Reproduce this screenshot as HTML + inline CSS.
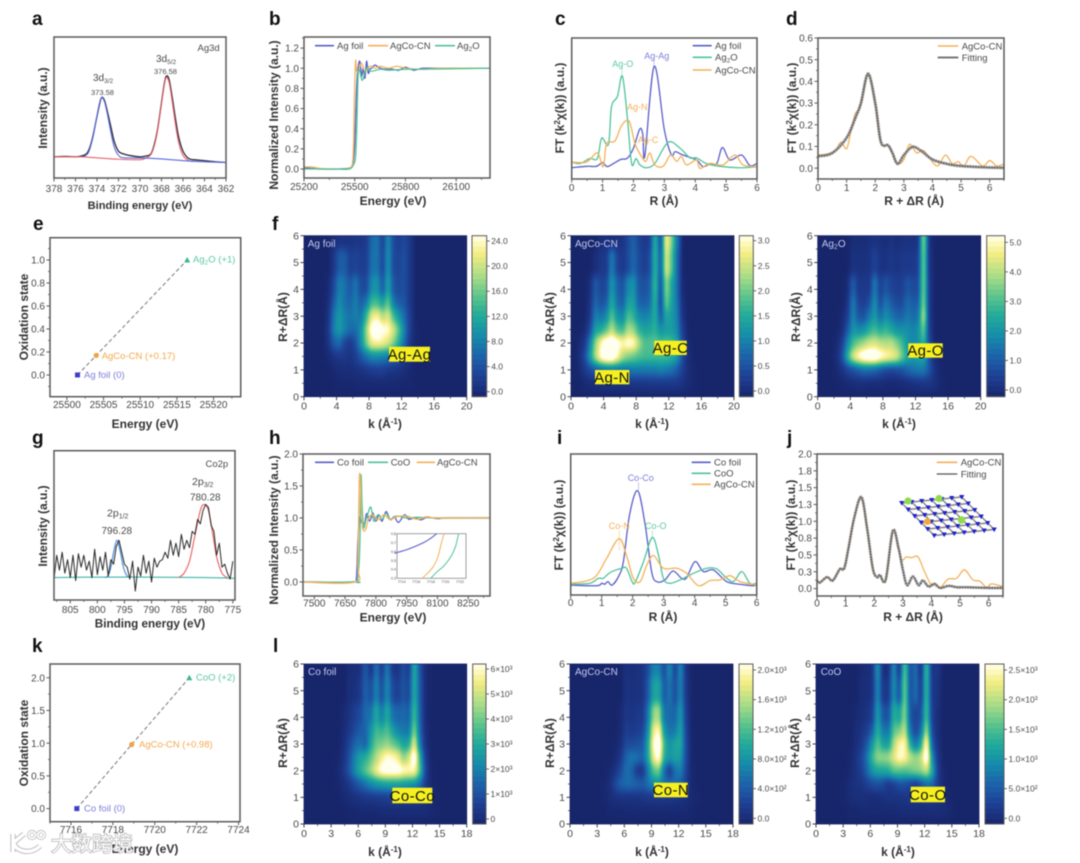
<!DOCTYPE html>
<html lang="en">
<head>
<meta charset="utf-8">
<title>Ag and Co XPS / XAFS characterization figure</title>
<style>
html,body{margin:0;padding:0;background:#fff;width:1080px;height:863px;overflow:hidden}
svg{display:block;filter:blur(.65px)}
text{font-family:"Liberation Sans","Noto Sans CJK SC",sans-serif;fill:#4a4a4a}
.L{font-size:19px;font-weight:bold;fill:#111}
.T{font-size:12px;font-weight:bold;fill:#333;text-anchor:middle}
.S{font-size:9.5px}
.A{font-size:9px;text-anchor:middle}
.H{font-size:10px;fill:#c3c9ee}
.C{font-size:15px;fill:#111;text-anchor:middle;letter-spacing:.4px}
</style>
</head>
<body>
<svg id="fig" width="1080" height="863" viewBox="0 0 1080 863" xmlns="http://www.w3.org/2000/svg">
<defs>
<filter id="heatBlur" x="-10%" y="-10%" width="120%" height="120%" color-interpolation-filters="sRGB"><feGaussianBlur stdDeviation="2.2 4.6"/><feComponentTransfer id="heatTransfer"></feComponentTransfer></filter>
<clipPath id="cf1"><rect x="304" y="235.7" width="162.7" height="161"/></clipPath>
<clipPath id="cf2"><rect x="571" y="235.7" width="163" height="161"/></clipPath>
<clipPath id="cf3"><rect x="817.7" y="235.7" width="163" height="161"/></clipPath>
<clipPath id="cl1"><rect x="304" y="664" width="162.7" height="160"/></clipPath>
<clipPath id="cl2"><rect x="570" y="664" width="163" height="160"/></clipPath>
<clipPath id="cl3"><rect x="816" y="664" width="163" height="160"/></clipPath>
</defs>
<rect width="1080" height="863" fill="#fff"/>
<g id="plots"></g>

<g>
<text class="L" x="32" y="25">a</text>
<text class="L" x="269" y="25">b</text>
<text class="L" x="555" y="25">c</text>
<text class="L" x="786" y="25">d</text>
<text class="L" x="33" y="230">e</text>
<text class="L" x="272" y="230">f</text>
<text class="L" x="32" y="444">g</text>
<text class="L" x="269" y="444">h</text>
<text class="L" x="557" y="444">i</text>
<text class="L" x="787" y="444">j</text>
<text class="L" x="32" y="652">k</text>
<text class="L" x="273" y="652">l</text>
</g>

<g>
<text class="T" x="140" y="209" style="font-size:11.1px">Binding energy (eV)</text>
<text class="T" x="393" y="205">Energy (eV)</text>
<text class="T" x="664" y="205">R (Å)</text>
<text class="T" x="914" y="205">R + ΔR (Å)</text>
<text class="T" x="145" y="428">Energy (eV)</text>
<text class="T" x="385" y="428">k (Å<tspan dy="-4" font-size="8">-1</tspan><tspan dy="4">)</tspan></text>
<text class="T" x="652" y="428">k (Å<tspan dy="-4" font-size="8">-1</tspan><tspan dy="4">)</tspan></text>
<text class="T" x="899" y="428">k (Å<tspan dy="-4" font-size="8">-1</tspan><tspan dy="4">)</tspan></text>
<text class="T" x="150" y="627.5" style="font-size:11.7px">Binding energy (eV)</text>
<text class="T" x="393" y="621.5">Energy (eV)</text>
<text class="T" x="663" y="621">R (Å)</text>
<text class="T" x="913" y="621">R + ΔR (Å)</text>
<text class="T" x="145" y="853">Energy (eV)</text>
<text class="T" x="385" y="856">k (Å<tspan dy="-4" font-size="8">-1</tspan><tspan dy="4">)</tspan></text>
<text class="T" x="652" y="856">k (Å<tspan dy="-4" font-size="8">-1</tspan><tspan dy="4">)</tspan></text>
<text class="T" x="898" y="856">k (Å<tspan dy="-4" font-size="8">-1</tspan><tspan dy="4">)</tspan></text>

<text class="T" transform="translate(47,108) rotate(-90)">Intensity (a.u.)</text>
<text class="T" transform="translate(278,115) rotate(-90)">Normalized Intensity (a.u.)</text>
<text class="T" transform="translate(564,108) rotate(-90)">FT (k<tspan dy="-4" font-size="8">2</tspan><tspan dy="4">χ(k)) (a.u.)</tspan></text>
<text class="T" transform="translate(796,108) rotate(-90)">FT (k<tspan dy="-4" font-size="8">2</tspan><tspan dy="4">χ(k)) (a.u.)</tspan></text>
<text class="T" transform="translate(28,317) rotate(-90)">Oxidation state</text>
<text class="T" transform="translate(287,317) rotate(-90)">R+ΔR(Å)</text>
<text class="T" transform="translate(554,317) rotate(-90)">R+ΔR(Å)</text>
<text class="T" transform="translate(800,317) rotate(-90)">R+ΔR(Å)</text>
<text class="T" transform="translate(47,526) rotate(-90)">Intensity (a.u.)</text>
<text class="T" transform="translate(278,530) rotate(-90)">Normalized Intensity (a.u.)</text>
<text class="T" transform="translate(563,525) rotate(-90)">FT (k<tspan dy="-4" font-size="8">2</tspan><tspan dy="4">χ(k)) (a.u.)</tspan></text>
<text class="T" transform="translate(795,525) rotate(-90)">FT (k<tspan dy="-4" font-size="8">2</tspan><tspan dy="4">χ(k)) (a.u.)</tspan></text>
<text class="T" transform="translate(28,743) rotate(-90)">Oxidation state</text>
<text class="T" transform="translate(287,743) rotate(-90)">R+ΔR(Å)</text>
<text class="T" transform="translate(554,743) rotate(-90)">R+ΔR(Å)</text>
<text class="T" transform="translate(799,743) rotate(-90)">R+ΔR(Å)</text>
</g>

<g>
<text x="197.5" y="51" font-size="9.5">Ag3d</text>
<text x="93" y="81" font-size="10">3d<tspan dy="2" font-size="6.5">3/2</tspan></text>
<text x="91" y="95" font-size="7.5">373.58</text>
<text x="156" y="62" font-size="10">3d<tspan dy="2" font-size="6.5">5/2</tspan></text>
<text x="154" y="74" font-size="7.5">376.58</text>
</g>
<g>
<text x="205.5" y="467" font-size="9.5">Co2p</text>
<text x="192" y="485" font-size="10.5">2p<tspan dy="2" font-size="7">3/2</tspan></text>
<text x="190" y="500.7" font-size="10">780.28</text>
<text x="107" y="516.7" font-size="10.5">2p<tspan dy="2" font-size="7">1/2</tspan></text>
<text x="101.5" y="534" font-size="10">796.28</text>
</g>

<g>
<line x1="315" x2="334" y1="45.7" y2="45.7" stroke="#5a5fc8" stroke-width="1.6"/>
<text class="S" x="337" y="49">Ag foil</text>
<line x1="368" x2="388" y1="45.7" y2="45.7" stroke="#f4b15a" stroke-width="1.6"/>
<text class="S" x="390" y="49">AgCo-CN</text>
<line x1="435" x2="455" y1="45.7" y2="45.7" stroke="#4fc39a" stroke-width="1.6"/>
<text class="S" x="457" y="49">Ag<tspan dy="2" font-size="6.5">2</tspan><tspan dy="-2">O</tspan></text>
</g>
<g>
<line x1="692.7" x2="711.7" y1="45.7" y2="45.7" stroke="#5a5fc8" stroke-width="1.6"/>
<text class="S" x="715" y="49">Ag foil</text>
<line x1="692.7" x2="711.7" y1="57.3" y2="57.3" stroke="#4fc39a" stroke-width="1.6"/>
<text class="S" x="715" y="60.6">Ag<tspan dy="2" font-size="6.5">2</tspan><tspan dy="-2">O</tspan></text>
<line x1="692.7" x2="711.7" y1="70" y2="70" stroke="#f4b15a" stroke-width="1.6"/>
<text class="S" x="715" y="73.3">AgCo-CN</text>
<text class="A" x="656.7" y="59" style="fill:#7a7fd8">Ag-Ag</text>
<text class="A" x="622.7" y="67" style="fill:#5cc9a2">Ag-O</text>
<text class="A" x="637.3" y="110" style="fill:#f4b15a">Ag-N</text>
<text class="A" x="648" y="143" style="fill:#f4b15a">Ag-C</text>
<line x1="654" x2="654" y1="60.5" y2="66" stroke="#7a7fd8" stroke-width=".8" stroke-dasharray="1.2 1"/>
<line x1="622" x2="622" y1="68.5" y2="75" stroke="#5cc9a2" stroke-width=".8" stroke-dasharray="1.2 1"/>
</g>
<g>
<line x1="937.7" x2="958.3" y1="46" y2="46" stroke="#f4b15a" stroke-width="1.6"/>
<text class="S" x="961.7" y="49.3">AgCo-CN</text>
<line x1="937.7" x2="958.3" y1="57.5" y2="57.5" stroke="#777" stroke-width="2"/>
<text class="S" x="961.7" y="60.8">Fitting</text>
</g>
<g>
<line x1="315" x2="334" y1="462.3" y2="462.3" stroke="#5a5fc8" stroke-width="1.6"/>
<text class="S" x="337" y="465.6">Co foil</text>
<line x1="368" x2="388" y1="462.3" y2="462.3" stroke="#4fc39a" stroke-width="1.6"/>
<text class="S" x="390.7" y="465.6">CoO</text>
<line x1="416.7" x2="435" y1="462.3" y2="462.3" stroke="#f4b15a" stroke-width="1.6"/>
<text class="S" x="437" y="465.6">AgCo-CN</text>
</g>
<g>
<line x1="691.7" x2="710.7" y1="462.3" y2="462.3" stroke="#5a5fc8" stroke-width="1.6"/>
<text class="S" x="714" y="465.6">Co foil</text>
<line x1="691.7" x2="710.7" y1="473.3" y2="473.3" stroke="#4fc39a" stroke-width="1.6"/>
<text class="S" x="714" y="476.6">CoO</text>
<line x1="691.7" x2="710.7" y1="484.3" y2="484.3" stroke="#f4b15a" stroke-width="1.6"/>
<text class="S" x="714" y="487.6">AgCo-CN</text>
<text class="A" x="640.7" y="481" style="fill:#7a7fd8">Co-Co</text>
<text class="A" x="619.3" y="529" style="fill:#f4b15a">Co-N</text>
<text class="A" x="655.7" y="529" style="fill:#5cc9a2">Co-O</text>
<line x1="638.5" x2="638.5" y1="483" y2="490" stroke="#7a7fd8" stroke-width=".8" stroke-dasharray="1.2 1"/>
<line x1="619.3" x2="619.3" y1="531" y2="551" stroke="#f4b15a" stroke-width=".8" stroke-dasharray="1.2 1"/>
<line x1="652.3" x2="652.3" y1="531" y2="537" stroke="#5cc9a2" stroke-width=".8" stroke-dasharray="1.2 1"/>
</g>
<g>
<line x1="936.7" x2="957.3" y1="462.3" y2="462.3" stroke="#f4b15a" stroke-width="1.6"/>
<text class="S" x="960.7" y="465.6">AgCo-CN</text>
<line x1="936.7" x2="957.3" y1="474" y2="474" stroke="#555" stroke-width="1.2"/>
<text class="S" x="960.7" y="477.3">Fitting</text>
</g>

<g>
<text class="S" x="193" y="262.7" style="fill:#5cc9a2">Ag<tspan dy="2" font-size="6.5">2</tspan><tspan dy="-2">O (+1)</tspan></text>
<text class="S" x="101.7" y="359" style="fill:#f4a94e">AgCo-CN (+0.17)</text>
<text class="S" x="84" y="378" style="fill:#7a7fd8">Ag foil (0)</text>
</g>
<g>
<text class="S" x="196" y="680.7" style="fill:#5cc9a2">CoO (+2)</text>
<text class="S" x="139" y="747.7" style="fill:#f4a94e">AgCo-CN (+0.98)</text>
<text class="S" x="84" y="811.7" style="fill:#7a7fd8">Co foil (0)</text>
</g>

<g id="heatLabels">
<text class="H" x="307.7" y="247">Ag foil</text>
<text class="H" x="575" y="247">AgCo-CN</text>
<text class="H" x="821.7" y="247">Ag<tspan dy="2" font-size="7">2</tspan><tspan dy="-2">O</tspan></text>
<text class="H" x="308" y="675">Co foil</text>
<text class="H" x="575" y="675">AgCo-CN</text>
<text class="H" x="820.7" y="675">CoO</text>

<rect x="389" y="346.7" width="41" height="15" fill="#f6f020"/>
<text class="C" x="409.5" y="359.5">Ag-Ag</text>
<rect x="595" y="370" width="34.3" height="14.3" fill="#f6f020"/>
<text class="C" x="612" y="382.5">Ag-N</text>
<rect x="654.3" y="340.7" width="32.4" height="14.3" fill="#f6f020"/>
<text class="C" x="670.5" y="353">Ag-C</text>
<rect x="908.3" y="343.3" width="34.4" height="14.4" fill="#f6f020"/>
<text class="C" x="925.5" y="355.7">Ag-O</text>
<rect x="392.3" y="787.7" width="40" height="15.6" fill="#f6f020"/>
<text class="C" x="412.3" y="800.8">Co-Co</text>
<rect x="654" y="782.7" width="33.7" height="14.6" fill="#f6f020"/>
<text class="C" x="670.8" y="795.2">Co-N</text>
<rect x="910.7" y="786.7" width="34.3" height="15.6" fill="#f6f020"/>
<text class="C" x="927.8" y="799.8">Co-O</text>
</g>

<g>
<path d="M13 834 V852 M13 843 L24 834 M14 844 C18 853 32 854 40 846" fill="none" stroke="#bdbdbd" stroke-width="5.4"/>
<path d="M13 834 V852 M13 843 L24 834 M14 844 C18 853 32 854 40 846" fill="none" stroke="#fff" stroke-width="3.4"/>
<circle cx="32" cy="835" r="3.4" fill="none" stroke="#bdbdbd" stroke-width="3.4"/>
<circle cx="41" cy="835" r="3.4" fill="none" stroke="#bdbdbd" stroke-width="3.4"/>
<circle cx="32" cy="835" r="3.4" fill="none" stroke="#fff" stroke-width="1.8"/>
<circle cx="41" cy="835" r="3.4" fill="none" stroke="#fff" stroke-width="1.8"/>
<text x="51" y="851" font-size="20.5" style="fill:#fff;stroke:#b5b5b5;stroke-width:1.5;paint-order:stroke fill;font-family:'Liberation Sans','Noto Sans CJK SC',sans-serif">大数跨境</text>
</g>
</svg>

<script>
/* ---------- panel a : XPS Ag 3d ---------- */
const aTicksX=[378,376,374,372,370,368,366,364,362];
const aRaw=[[378,15],[377,15.3],[376,15],[375.5,15.5],[375,17],[374.7,21],[374.4,29],[374.1,40],[373.8,51],[373.58,57],[373.3,55],[373,46],[372.7,36],[372.4,26],[372,19],[371.5,17],[371,16],[370,15],[369.5,15.5],[369,17],[368.7,23],[368.4,33],[368.1,48],[367.8,64],[367.58,72],[367.3,70],[367,57],[366.7,42],[366.4,29],[366,19],[365.5,14],[365,13],[364,12.3],[363,11.5],[362,11]];
const aFitBlue=[[375.3,15],[374.8,18],[374.4,28],[374.1,40],[373.8,52],[373.58,57],[373.3,54],[373,44],[372.7,32],[372.4,22],[372,16],[371.5,14.3],[370,14.2],[368,13.5],[366,12.3],[364,11.5],[362,11]];
const aFitRed=[[378,15],[375.5,15],[374,14.3],[372,13.3],[370,13],[369.5,14],[369,16.5],[368.7,22],[368.4,32],[368.1,47],[367.8,63],[367.58,71],[367.3,68],[367,54],[366.7,38],[366.4,25],[366,16],[365.5,12.5],[365,11.8]];

/* ---------- panel b : Ag K-edge XANES ---------- */
const bTicksX=[25200,25500,25800,26100];
const bTicksY=[0,.2,.4,.6,.8,1,1.2];
const bAgFoil=[[25200,.01],[25300,0],[25400,0],[25470,.01],[25490,.06],[25500,.25],[25510,.75],[25518,.98],[25530,1.07],[25540,.92],[25550,1],[25560,.9],[25570,1.07],[25580,.95],[25590,.99],[25600,1],[25620,1.03],[25650,1],[25680,.99],[25720,.99],[25760,.98],[25800,1.01],[25850,.98],[25900,1],[26000,1],[26100,1],[26300,1]];
const bAgCoCN=[[25200,.02],[25250,.02],[25300,.005],[25400,0],[25470,.01],[25490,.12],[25498,.7],[25505,1.07],[25510,.98],[25520,.97],[25540,1.05],[25560,.97],[25590,1.02],[25620,1],[25650,1.02],[25700,1],[25750,1.02],[25800,1],[25900,.99],[26000,1],[26300,1]];
const bAg2O=[[25200,0],[25300,0],[25400,0],[25470,0],[25495,.05],[25505,.12],[25512,.4],[25520,.93],[25530,.97],[25545,.88],[25570,1],[25600,.97],[25650,.99],[25700,.98],[25800,.99],[25900,.99],[26300,1]];

/* ---------- panel c : Ag FT-EXAFS ---------- */
const cTicksX=[0,1,2,3,4,5,6];
const cAgFoil=[[0,8],[.5,9],[.8,9],[1,11.6],[1.15,8.8],[1.4,11.6],[1.6,14],[1.8,14.7],[2,21.8],[2.2,35.3],[2.3,32],[2.37,16.6],[2.67,79.9],[3,34.8],[3.23,17],[3.35,19.4],[3.6,17],[4.04,13.5],[4.25,8.8],[4.5,11],[4.7,11],[4.88,22.3],[5.12,13.5],[5.5,17],[5.77,9.5],[6,11]];
const cAg2O=[[0,12],[.27,11],[.59,14.5],[.83,14.5],[.97,29],[1.19,24.5],[1.29,51.4],[1.48,58.5],[1.64,73],[1.8,44],[1.94,11],[2.08,14.5],[2.21,10],[2.42,8],[2.69,11],[3.12,26],[3.5,22],[3.83,15],[4.04,15],[4.36,11],[4.8,9],[5.44,8],[6,8.7]];
const cAgCoCN=[[0,12],[.48,12],[.83,18.5],[1.02,8.7],[1.13,25],[1.4,27],[1.62,38],[1.86,41],[2.05,25],[2.26,16],[2.4,12.5],[2.53,18.5],[2.69,10],[2.96,9],[3.2,17],[3.4,12.5],[3.55,16],[3.72,10],[4.04,13.5],[4.15,7.5],[4.47,11],[4.9,10],[5.28,17],[5.55,10],[6,8.7]];

/* ---------- panel d : Ag EXAFS fit ---------- */
const dTicksX=[0,1,2,3,4,5,6];
const dTicksY=[0,.1,.2,.3,.4,.5,.6];
const dData=[[0,.06],[.3,.065],[.6,.08],[.8,.12],[1,.09],[1.15,.17],[1.3,.25],[1.5,.29],[1.75,.435],[2,.3],[2.2,.12],[2.45,.105],[2.6,.07],[2.78,.02],[3,.04],[3.2,.11],[3.45,.07],[3.7,.08],[4.15,.01],[4.45,.06],[4.7,.02],[4.9,.03],[5.1,.01],[5.35,.055],[5.75,.01],[6,.035],[6.25,.01],[6.5,.02]];
const dFit=[[0,.055],[.5,.07],[1,.14],[1.3,.23],[1.5,.3],[1.75,.435],[2,.3],[2.2,.12],[2.45,.105],[2.6,.07],[2.78,.02],[3,.06],[3.3,.098],[3.6,.08],[4,.04],[4.5,.02],[5,.01],[6,.003],[6.5,.002]];

/* ---------- panels e / k : oxidation state ---------- */
const eTicksX=[25500,25505,25510,25515,25520];
const eTicksY=[0,.2,.4,.6,.8,1];
const eEnergy=[25501.45,25504,25516.4];
const eState=[0,.17,1];
const kTicksX=[7716,7718,7720,7722,7724];
const kTicksY=[0,.5,1,1.5,2];
const kEnergy=[7716.28,7718.9,7721.65];
const kState=[0,.98,2];

/* ---------- panel g : XPS Co 2p ---------- */
const gTicksX=[805,800,795,790,785,780,775];
const gEnergy=[808,807.5,807,806.5,806,805.5,805,804.5,804,803.5,803,802.5,802,801.5,801,800.5,800,799.5,799,798.5,798,797.5,797,796.5,796,795.5,795,794.5,794,793.5,793,792.5,792,791.5,791,790.5,790,789.5,789,788.5,788,787.5,787,786.5,786,785.5,785,784.5,784,783.5,783,782.5,782,781.5,781,780.5,780,779.5,779,778.5,778,777.5,777,776.5,776,775.5,775];
const gCounts=[14,30,20,32,18,27,15,30,13,31,22,30,20,26,15,34,17,29,20,32,16,27,24,36,40,32,24,22,14,26,6,22,16,30,18,26,12,28,22,26,27,32,28,40,30,38,29,44,34,40,35,46,44,54,51,60,64,62,50,46,30,38,22,24,18,14,26];
const gFitBlue=[[798.6,15],[798,16.5],[797.5,22],[797,32],[796.4,40],[795.8,33],[795.2,22],[794.6,16.5],[794,15]];
const gFitRed=[[785,15],[784,18],[783,26],[782,43],[781,60],[780.3,64],[779.5,60],[778.7,44],[778,29],[777,18],[776,15]];
const gBase=[[808,15],[800,15.3],[790,15.3],[780,15],[774.6,14.5]];

/* ---------- panel h : Co K-edge XANES ---------- */
const hTicksX=[7500,7650,7800,7950,8100,8250];
const hTicksY=[0,.5,1,1.5,2];
const hCoFoil=[[7445,0],[7690,0],[7705,.05],[7712,.6],[7720,1],[7730,.93],[7745,.92],[7755,1.07],[7770,.95],[7785,1.08],[7800,.95],[7815,1.05],[7830,.95],[7850,1.1],[7870,.97],[7890,1.02],[7910,.93],[7940,1.05],[7960,.98],[7990,1],[8020,.97],[8050,1.01],[8100,.99],[8150,1],[8356,1]];
const hCoO=[[7445,0],[7700,0],[7712,.05],[7722,.6],[7727,1.66],[7733,1.2],[7740,.85],[7750,.95],[7760,1.05],[7775,1.17],[7790,.95],[7810,1.05],[7830,.98],[7850,1.07],[7870,.98],[7900,1.03],[7950,1],[8000,1.01],[8100,1],[8356,1]];
const hAgCoCN=[[7445,0],[7700,0],[7712,.3],[7720,1.66],[7728,1.3],[7735,.85],[7750,.82],[7765,1],[7785,1.05],[7810,.97],[7840,1.05],[7870,.97],[7900,1.02],[7950,1.03],[8000,.98],[8050,1.02],[8100,1],[8356,1]];
const insetTicksX=[7714,7716,7718,7720,7722];
const insetTicksY=[.3,.4,.5,.6,.7,.8];
const insetCoFoil=[[7713,.58],[7715,.63],[7717,.7],[7718,.75],[7718.8,.8]];
const insetAgCoCN=[[7716.8,.3],[7717.6,.36],[7718.4,.44],[7719,.55],[7719.4,.68],[7719.8,.8]];
const insetCoO=[[7718,.3],[7718.8,.37],[7719.8,.44],[7720.8,.55],[7721.4,.66],[7721.8,.8]];

/* ---------- panel i : Co FT-EXAFS ---------- */
const iTicksX=[0,1,2,3,4,5,6];
const iCoFoil=[[0,7],[.84,6.6],[1,8.3],[1.1,7.6],[1.2,9.5],[1.33,7],[1.54,13],[1.7,23.7],[1.9,57],[2.16,74],[2.4,50],[2.61,16.6],[2.77,9.5],[3.04,10.7],[3.3,17],[3.58,11.8],[3.74,12.3],[4.01,23.7],[4.28,16.6],[4.6,17.8],[5.03,9.5],[5.46,7.6],[5.89,6.6],[6,7.6]];
const iCoO=[[0,7.6],[.62,8.3],[.89,11.8],[1.05,11.8],[1.16,14],[1.33,16.6],[1.65,19],[1.8,19],[1.98,9.5],[2.08,9],[2.35,23.7],[2.63,40.8],[2.83,28.4],[2.99,11.8],[3.2,8.3],[3.53,10.7],[3.96,15.4],[4.39,19],[4.71,18.5],[4.98,13],[5.25,9.5],[5.52,16.6],[5.78,8.3],[6,8.3]];
const iAgCoCN=[[0,8.3],[.52,10],[.84,14],[1.16,26],[1.56,40],[1.8,28],[2.02,11.8],[2.24,9.5],[2.45,21],[2.67,28],[2.99,19],[3.42,19],[3.74,15.4],[4.12,6.6],[4.5,10.3],[4.82,10.7],[5.14,13.7],[5.46,9.5],[6,7]];

/* ---------- panel j : Co EXAFS fit ---------- */
const jTicksX=[0,1,2,3,4,5,6];
const jTicksY=[0,.25,.5,.75,1,1.25,1.5,1.75,2];
const jTickText=["0.0","0.3","0.5","0.8","1.0","1.3","1.5","1.8","2.0"];
const jData=[[0,.12],[.1,.09],[.35,.17],[.55,.12],[.8,.29],[.95,.3],[1.1,.62],[1.3,1.05],[1.55,1.33],[1.75,.9],[1.95,.3],[2.1,.17],[2.2,.2],[2.4,.13],[2.65,.85],[2.85,.6],[2.95,.42],[3.12,.47],[3.3,.46],[3.53,.47],[3.76,.25],[4,.05],[4.17,.07],[4.3,.01],[4.58,.14],[4.87,.15],[5.1,.27],[5.22,.26],[5.45,.13],[5.69,.11],[5.92,.02],[6.1,.07],[6.5,.03]];
const jFit=[[0,.12],[.1,.09],[.35,.17],[.55,.12],[.8,.29],[.95,.3],[1.1,.6],[1.3,1.05],[1.55,1.36],[1.75,.9],[1.95,.3],[2.1,.17],[2.2,.2],[2.4,.13],[2.65,.86],[2.85,.6],[3,.28],[3.15,.05],[3.35,.18],[3.55,.05],[3.7,.12],[3.9,.03],[4.1,.07],[4.3,.01],[4.6,.04],[4.9,.02],[5.2,.02],[6,.01],[6.5,.01]];

/* ---------- wavelet maps : percent of colour-bar range, rows from R=6 down ---------- */
const mapR=[6,5,4,3.5,3,2.5,2,1.5,1,.5];
const agK=[1,1.67,2.33,3,3.67,4.33,5,5.67,6.33,7,7.67,8.33,9,9.67,10.33,11,11.67,12.33,13,13.67,14.33,15];
const coK=[2,2.6,3.2,3.8,4.4,5,5.6,6.2,6.8,7.4,8,8.6,9.2,9.8,10.4,11,11.6,12.2,12.8,13.4,14,14.6];
const mapAgFoil=[
[0,0,0,0,4,6,6,6,7,7,9,24,27,10,34,14,10,14,8,0,0,0],
[0,0,0,0,8,20,20,10,12,10,10,26,27,12,36,14,12,16,8,0,0,0],
[0,0,0,2,14,30,26,18,28,14,14,34,36,18,42,18,14,16,8,0,0,0],
[0,0,0,4,20,34,26,22,30,20,28,50,50,40,56,28,20,18,8,0,0,0],
[0,0,0,6,28,38,30,26,30,26,48,76,80,66,74,50,36,24,10,0,0,0],
[0,0,0,8,30,38,30,24,24,34,62,92,100,88,85,72,52,30,10,1,0,0],
[0,0,0,6,20,24,12,8,16,34,58,78,80,78,72,60,44,24,8,1,0,0],
[0,0,0,2,6,8,8,6,10,18,26,32,32,30,28,22,16,10,4,0,0,0],
[0,0,0,0,2,3,4,4,5,6,8,9,10,10,8,7,6,4,2,0,0,0],
[0,0,0,0,0,1,1,1,2,2,2,2,2,2,2,2,2,1,1,0,0,0]];
const mapAgCoCN=[
[0,0,0,0,4,5,4,6,6,14,22,12,8,10,48,12,82,60,28,0,0,0],
[0,0,0,4,8,8,30,12,8,14,24,14,10,14,50,16,76,54,24,0,0,0],
[0,0,4,20,12,14,38,22,16,32,36,18,16,20,52,12,64,42,26,2,0,0],
[0,0,6,24,16,20,44,26,20,40,40,22,20,24,48,10,58,40,28,4,0,0],
[0,0,8,30,26,32,54,36,30,52,46,32,30,32,46,18,42,38,30,6,0,0],
[0,2,14,40,42,52,68,52,48,66,62,46,40,42,46,34,38,38,32,10,0,0],
[2,8,30,62,82,96,100,90,82,88,86,66,52,52,54,50,52,50,40,14,2,0],
[4,14,38,66,88,100,100,84,66,60,56,52,50,50,50,50,50,46,38,16,3,0],
[2,8,14,18,22,24,26,26,26,26,28,28,28,28,28,30,28,26,20,10,4,1],
[0,2,3,4,5,6,6,6,6,6,7,7,7,8,8,8,8,8,8,6,3,1]];
const mapAg2O=[
[0,0,0,0,0,3,4,3,5,6,5,3,6,4,5,6,5,6,66,5,0,0],
[0,0,0,0,0,6,5,5,6,12,6,6,8,6,8,8,8,10,62,6,0,0],
[0,0,0,0,3,22,8,8,8,30,10,18,12,10,10,18,14,14,62,8,0,0],
[0,0,0,0,6,30,12,10,16,36,14,28,20,14,14,24,20,20,64,8,0,0],
[0,0,0,2,10,32,18,16,28,38,24,34,28,22,22,28,24,26,72,8,0,0],
[0,0,0,4,18,36,32,34,44,50,42,48,42,34,34,34,30,34,58,10,0,0],
[0,0,2,10,32,50,58,64,70,72,68,66,68,60,50,36,32,34,48,14,1,0],
[0,0,4,16,46,72,86,96,100,100,90,84,80,74,58,42,38,40,42,18,3,0],
[0,0,2,6,12,16,20,24,24,22,18,14,12,14,16,22,26,28,28,18,6,1],
[0,0,0,1,2,3,4,4,3,3,3,2,2,2,3,4,5,6,7,7,5,2]];
const mapCoFoil=[
[0,0,0,0,0,3,4,5,20,5,28,8,30,8,6,16,8,46,18,3,0,0],
[0,0,0,0,0,4,5,8,22,14,32,14,34,14,10,18,12,46,20,3,0,0],
[0,0,0,0,2,6,10,14,24,26,44,28,44,26,22,24,20,52,22,3,0,0],
[0,0,0,0,3,8,14,20,22,36,50,46,52,40,30,28,26,62,24,4,0,0],
[0,0,0,0,4,12,22,26,20,42,56,58,62,56,50,40,42,78,30,6,0,0],
[0,0,0,1,6,16,30,40,44,54,66,78,86,84,78,60,70,98,48,10,0,0],
[0,0,0,2,8,18,32,44,54,64,78,90,92,92,92,86,84,84,54,14,1,0],
[0,0,0,1,4,8,14,20,26,32,36,38,40,40,40,38,36,34,26,10,2,0],
[0,0,0,0,2,3,5,6,8,8,9,9,10,10,10,10,10,10,9,6,2,1],
[0,0,0,0,0,1,1,2,2,2,2,3,3,3,3,3,3,3,3,3,2,1]];
const mapCoCN=[
[0,0,0,0,0,0,0,5,4,5,6,14,30,30,14,34,10,34,6,0,0,0],
[0,0,0,0,0,0,0,6,5,5,6,18,40,42,18,28,14,32,8,0,0,0],
[0,0,0,0,0,0,2,8,6,8,8,26,62,66,26,24,22,38,10,0,0,0],
[0,0,0,0,0,0,2,10,8,10,12,32,76,86,36,26,28,42,12,0,0,0],
[0,0,0,0,0,1,4,14,14,16,18,40,84,100,48,34,42,44,14,0,0,0],
[0,0,0,0,0,2,8,22,28,26,22,40,76,92,44,36,40,38,14,0,0,0],
[0,0,0,0,2,6,14,26,22,8,6,28,52,58,24,8,26,30,12,1,0,0],
[0,0,0,1,4,14,22,24,24,22,20,26,32,34,26,24,24,20,10,1,0,0],
[0,0,0,1,3,5,6,6,6,6,7,8,8,9,8,8,7,6,4,2,1,0],
[0,0,0,0,1,1,1,2,2,2,2,2,2,2,2,2,2,2,2,1,0,0]];
const mapCoO=[
[0,0,0,0,0,2,3,5,38,4,4,36,5,58,14,26,4,54,6,8,0,0],
[0,0,0,0,0,3,4,6,34,8,8,36,14,62,14,26,8,52,8,6,0,0],
[0,0,0,0,2,4,6,10,40,18,16,46,38,64,18,12,16,54,10,4,0,0],
[0,0,0,0,3,6,10,20,46,28,26,54,58,70,26,12,24,68,14,4,0,0],
[0,0,0,0,4,8,18,36,54,40,38,66,82,84,44,26,42,92,20,6,0,0],
[0,0,0,1,6,12,26,48,62,62,64,74,86,82,68,62,68,100,36,8,0,0],
[0,0,0,2,6,10,22,36,42,42,44,54,54,52,56,60,62,70,46,12,1,0],
[0,0,1,3,6,6,10,14,16,14,8,10,16,16,12,8,16,24,24,10,2,0],
[0,0,1,3,4,5,4,3,3,5,6,6,6,7,8,8,8,9,9,6,3,1],
[0,0,0,1,1,2,2,2,2,2,2,2,3,3,3,3,3,3,4,4,3,2]];
const mapTicksR=[0,1,2,3,4,5,6];
const agTicksK=[0,4,8,12,16,20];
const coTicksK=[0,3,6,9,12,15,18];
const cbF1Values=[0,4,8,12,16,20,24];
const cbF1Text=["0.0","4.0","8.0","12.0","16.0","20.0","24.0"];
const cbF2Values=[0,.5,1,1.5,2,2.5,3];
const cbF2Text=["0.0","0.5","1.0","1.5","2.0","2.5","3.0"];
const cbF3Values=[0,1,2,3,4,5];
const cbF3Text=["0.0","1.0","2.0","3.0","4.0","5.0"];
const cbL1Values=[0,1000,2000,3000,4000,5000,6000];
const cbL1Text=["0","1×10³","2×10³","3×10³","4×10³","5×10³","6×10³"];
const cbL2Values=[0,400,800,1200,1600,2000];
const cbL2Text=["0.0","4.0×10²","8.0×10²","1.2×10³","1.6×10³","2.0×10³"];
const cbL3Values=[0,500,1000,1500,2000,2500];
const cbL3Text=["0.0","5.0×10²","1.0×10³","1.5×10³","2.0×10³","2.5×10³"];

/* ---------- drawing ---------- */
const NS='http://www.w3.org/2000/svg';
const root=document.getElementById('plots');
const BLUE='#5a5fc8',ORANGE='#f4b15a',GREEN='#4fc39a';
function add(parent,tag,props,name){
  const el=document.createElementNS(NS,tag);
  for(const k in props)el.setAttribute(k,props[k]);
  
  
  parent.appendChild(el);
  return el;
}
function linear(d0,d1,r0,r1){return v=>r0+(v-d0)/(d1-d0)*(r1-r0);}
function fmt1(v){return v.toFixed(1);}
function fmt0(v){return String(v);}
function axes(name,b,dx,dy,xt,yt,o){
  o=o||{};
  const g=add(root,'g',{},name+'-axes');
  const sx=linear(dx[0],dx[1],b.x0,b.x1),sy=linear(dy[0],dy[1],b.y1,b.y0);
  const fx=o.fx||fmt0,fy=o.fy||fmt1,col=o.frame||'#5a5a5a',off=o.off||13,fs=o.fs||10;
  const minorsOf=(t)=>{const m=[];for(let i=0;i<t.length-1;i++)m.push((t[i]+t[i+1])/2);
    if(t.length>1){const s=t[1]-t[0];m.push(t[0]-s/2,t[t.length-1]+s/2);}return m;};
  xt.forEach((v,i)=>{const x=sx(v);
    add(g,'line',{x1:x,x2:x,y1:b.y1,y2:b.y1+3.5,stroke:col,'stroke-width':1},name+'-x-tick');
    const lab=add(g,'text',{x:x,y:b.y1+off,'text-anchor':'middle','font-size':fs},name+'-x-tick-label');
    lab.textContent=fx(v,i);
  });
  minorsOf(xt).forEach(v=>{const x=sx(v);if(x<b.x0||x>b.x1)return;
    add(g,'line',{x1:x,x2:x,y1:b.y1,y2:b.y1+2,stroke:col,'stroke-width':.8},name+'-x-minor-tick');});
  yt.forEach((v,i)=>{const y=sy(v);
    add(g,'line',{x1:b.x0-3.5,x2:b.x0,y1:y,y2:y,stroke:col,'stroke-width':1},name+'-y-tick');
    const lab=add(g,'text',{x:b.x0-5,y:y+3.6,'text-anchor':'end','font-size':fs},name+'-y-tick-label');
    lab.textContent=fy(v,i);
  });
  minorsOf(yt).forEach(v=>{const y=sy(v);if(y<b.y0||y>b.y1)return;
    add(g,'line',{x1:b.x0-2,x2:b.x0,y1:y,y2:y,stroke:col,'stroke-width':.8},name+'-y-minor-tick');});
  return {sx,sy,b,g};
}
function frame(name,b){add(root,'rect',{x:b.x0,y:b.y0,width:b.x1-b.x0,height:b.y1-b.y0,fill:'none',stroke:'#5a5a5a','stroke-width':1.5},name+'-frame');}
function smooth(pts){
  let d='M'+pts[0][0].toFixed(2)+' '+pts[0][1].toFixed(2);
  for(let i=0;i<pts.length-1;i++){
    const p0=pts[Math.max(0,i-1)],p1=pts[i],p2=pts[i+1],p3=pts[Math.min(pts.length-1,i+2)];
    const k=1/6;
    d+='C'+(p1[0]+(p2[0]-p0[0])*k).toFixed(2)+' '+(p1[1]+(p2[1]-p0[1])*k).toFixed(2)+' '+(p2[0]-(p3[0]-p1[0])*k).toFixed(2)+' '+(p2[1]-(p3[1]-p1[1])*k).toFixed(2)+' '+p2[0].toFixed(2)+' '+p2[1].toFixed(2);
  }
  return d;
}
function curve(ax,data,color,w,name,extra,straight){
  const pts=data.map(p=>[ax.sx(p[0]),ax.sy(p[1])]);
  const d=straight?'M'+pts.map(p=>p[0].toFixed(2)+' '+p[1].toFixed(2)).join('L'):smooth(pts);
  const props=Object.assign({d:d,fill:'none',stroke:color,'stroke-width':w,'stroke-linejoin':'round'},extra||{});
  return add(root,'path',props,name);
}

const boxA={x0:54,x1:226,y0:37,y1:178};
const A=axes('panel-a',boxA,[378,362],[0,100],aTicksX,[],{off:14});
curve(A,aRaw,'#2c2c38',1.3,'ag3d-raw-spectrum');
curve(A,aFitRed,'#e8636a',1.1,'ag3d-fit-red');
curve(A,aFitBlue,'#5a6ae0',1.1,'ag3d-fit-blue');
frame('panel-a',boxA);

const boxB={x0:304,x1:490,y0:37,y1:178};
const B=axes('panel-b',boxB,[25200,26300],[-.0894,1.31],bTicksX,bTicksY,{off:12});
curve(B,bAgFoil,BLUE,1.3,'xanes-ag-foil');
curve(B,bAgCoCN,ORANGE,1.3,'xanes-agco-cn');
curve(B,bAg2O,GREEN,1.3,'xanes-ag2o');
frame('panel-b',boxB);

const boxC={x0:571.7,x1:757,y0:38,y1:179};
const C=axes('panel-c',boxC,[0,6],[0,100],cTicksX,[],{off:12});
curve(C,cAgFoil,BLUE,1.3,'ft-ag-foil');
curve(C,cAg2O,GREEN,1.3,'ft-ag2o');
curve(C,cAgCoCN,ORANGE,1.3,'ft-agco-cn');
frame('panel-c',boxC);

const boxD={x0:818,x1:1004,y0:38,y1:179};
const D=axes('panel-d',boxD,[0,6.5],[-.05,.6],dTicksX,dTicksY,{off:12});
curve(D,dData,ORANGE,1.3,'fit-data-agco-cn');
curve(D,dFit,'#8c8c8c',3,'fit-envelope',{'stroke-dasharray':'2.2 .5'});
curve(D,dFit,'#333',.5,'fit-line');
frame('panel-d',boxD);

function oxidation(name,b,dx,dy,tx,ty,en,st,fy){
  const ax=axes(name,b,dx,dy,tx,ty,{off:11.5,fy:fy});
  const pts=en.map((e,i)=>[e,st[i]]);
  curve(ax,pts,'#777',1,name+'-trend-line',{'stroke-dasharray':'4 2.5'},true);
  const x0=ax.sx(en[0]),y0=ax.sy(st[0]);
  add(root,'rect',{x:x0-2.5,y:y0-2.5,width:5,height:5,fill:'#3e3ec8'},name+'-marker-foil');
  add(root,'circle',{cx:ax.sx(en[1]),cy:ax.sy(st[1]),r:2.6,fill:'#f2a23c'},name+'-marker-agco-cn');
  const x2=ax.sx(en[2]),y2=ax.sy(st[2]);
  add(root,'path',{d:'M'+(x2-3)+' '+(y2+2.5)+'L'+(x2+3)+' '+(y2+2.5)+'L'+x2+' '+(y2-3)+'Z',fill:'#35b98a'},name+'-marker-oxide');
  frame(name,b);
}
oxidation('panel-e',{x0:50,x1:240.7,y0:237.7,y1:396.7},[25497.7,25523.7],[-.189,1.194],eTicksX,eTicksY,eEnergy,eState);
oxidation('panel-k',{x0:50,x1:240,y0:664,y1:821.7},[7715,7724.07],[-.2,2.21],kTicksX,kTicksY,kEnergy,kState);

const boxG={x0:54,x1:235,y0:450.7,y1:600};
const G=axes('panel-g',boxG,[808,774.6],[0,100],gTicksX,[],{off:13});
curve(G,gBase,'#3fb6a8',1.1,'co2p-baseline',{},false);
curve(G,gFitBlue,'#4f8fe0',1.2,'co2p-fit-blue');
curve(G,gFitRed,'#ee6a6a',1.2,'co2p-fit-red');
curve(G,gEnergy.map((e,i)=>[e,gCounts[i]]),'#2a2a2a',1,'co2p-raw-spectrum',{},true);
frame('panel-g',boxG);

const boxH={x0:303,x1:490,y0:454,y1:596};
const H=axes('panel-h',boxH,[7445,8356],[-.22,2],hTicksX,hTicksY,{off:10.5});
curve(H,hCoFoil,BLUE,1.3,'xanes-co-foil');
curve(H,hCoO,GREEN,1.3,'xanes-coo');
curve(H,hAgCoCN,ORANGE,1.3,'xanes-agco-cn');
frame('panel-h',boxH);
const boxIn={x0:397,x1:466,y0:533.7,y1:578.3};
const insetAx=(function(){
  const sx=linear(7714,7722,401.7,460),sy=linear(.3,.8,578.3,533.7);
  add(root,'rect',{x:boxIn.x0,y:boxIn.y0,width:69,height:44.6,fill:'#fff',stroke:'#888','stroke-width':.8},'inset-frame');
  insetTicksX.forEach(v=>{const t=add(root,'text',{x:sx(v),y:583,'text-anchor':'middle','font-size':3.6},'inset-x-tick-label');t.textContent=String(v);});
  insetTicksY.forEach(v=>{const t=add(root,'text',{x:396,y:sy(v)+1.3,'text-anchor':'end','font-size':3.6},'inset-y-tick-label');t.textContent=v.toFixed(1);});
  return {sx,sy};
})();
curve(insetAx,insetCoFoil,BLUE,1,'inset-co-foil');
curve(insetAx,insetAgCoCN,ORANGE,1,'inset-agco-cn');
curve(insetAx,insetCoO,GREEN,1,'inset-coo');

const boxI={x0:570.7,x1:756.7,y0:454,y1:595};
const I=axes('panel-i',boxI,[0,6],[0,100],iTicksX,[],{off:11});
curve(I,iCoFoil,BLUE,1.3,'ft-co-foil');
curve(I,iCoO,GREEN,1.3,'ft-coo');
curve(I,iAgCoCN,ORANGE,1.3,'ft-agco-cn');
frame('panel-i',boxI);

const boxJ={x0:817,x1:1003,y0:454,y1:596};
const J=axes('panel-j',boxJ,[0,6.5],[-.11,2],jTicksX,jTicksY,{off:10.5,fy:(v,i)=>jTickText[i]});
curve(J,jData,ORANGE,1.3,'fit-data-agco-cn');
curve(J,jFit,'#8c8c8c',2.8,'fit-envelope',{'stroke-dasharray':'2.2 .5'});
curve(J,jFit,'#333',.5,'fit-line');
frame('panel-j',boxJ);

/* structure inset in panel j */
(function(){
  const g=add(root,'g',{},'structure-inset');
  const ox=901.7,oy=503,ux=10,uy=-1,vx=6.5,vy=6.5;
  for(let j=0;j<=5;j++)for(let i=0;i<=6;i++){
    const px=ox+i*ux+j*vx,py=oy+i*uy+j*vy;
    if(i<6)add(g,'line',{x1:px,y1:py,x2:px+ux,y2:py+uy,stroke:'#858585','stroke-width':1.6},'structure-bond');
    if(j<5)add(g,'line',{x1:px,y1:py,x2:px+vx,y2:py+vy,stroke:'#858585','stroke-width':1.4},'structure-bond');
    add(g,'path',{d:'M'+(px-2.6)+' '+(py-2)+'L'+(px+2.6)+' '+(py-2)+'L'+px+' '+(py+2.6)+'Z',fill:'#1b1fd6'},'structure-nitrogen-atom');
  }
  add(g,'circle',{cx:908,cy:501,r:3.6,fill:'#8fdc4a'},'structure-co-site');
  add(g,'circle',{cx:939,cy:498.5,r:3.6,fill:'#8fdc4a'},'structure-co-site');
  add(g,'circle',{cx:961.5,cy:520,r:3.8,fill:'#8fdc4a'},'structure-co-site');
  add(g,'circle',{cx:927.5,cy:521.5,r:3.5,fill:'#f0a840'},'structure-ag-site');
})();

/* wavelet maps : percent values are blurred as grey levels, then colour-mapped by the filter */
const cStops=[[0,24,38,108],[.12,30,62,146],[.25,28,98,170],[.38,22,140,170],[.5,32,170,155],[.62,90,195,140],[.75,170,220,135],[.88,240,235,130],[.96,255,250,190],[1,255,255,240]];
function cmapRGB(f){
  f=Math.max(0,Math.min(1,f));
  for(let i=1;i<cStops.length;i++){
    if(f<=cStops[i][0]){
      const a=cStops[i-1],b=cStops[i],t=(f-a[0])/(b[0]-a[0]);
      return [1,2,3].map(n=>a[n]+(b[n]-a[n])*t);
    }
  }
  return [255,255,240];
}
function cmap(f){return 'rgb('+cmapRGB(f).map(Math.round).join(',')+')';}
(function(){
  const gain=1.16,n=64,tab=[[],[],[]];
  for(let i=0;i<n;i++){
    const c=cmapRGB(i/(n-1)*gain);
    for(let k=0;k<3;k++)tab[k].push((c[k]/255).toFixed(4));
  }
  const tr=document.getElementById('heatTransfer');
  ['feFuncR','feFuncG','feFuncB'].forEach((fn,k)=>{
    add(tr,fn,{type:'table',tableValues:tab[k].join(' ')},'heat-colormap-table');
  });
})();
function heat(name,clip,b,kMax,xt,kAxis,grid,cb,cbVals,cbText){
  const ax=axes(name,b,[0,kMax],[0,6],xt,mapTicksR,{off:13,fs:10.5,fy:fmt0,frame:'#444'});
  const clipG=add(root,'g',{'clip-path':'url(#'+clip+')'},name+'-clip');
  const blur=add(clipG,'g',{filter:'url(#heatBlur)'},name+'-cells');
  add(blur,'rect',{x:b.x0-15,y:b.y0-25,width:b.x1-b.x0+30,height:b.y1-b.y0+40,fill:'#000'},name+'-background');
  grid.forEach((row,r)=>{
    const top=r===0?b.y0-22:ax.sy((mapR[r]+mapR[r-1])/2);
    const bot=r===grid.length-1?ax.sy(mapR[r]-.25):ax.sy((mapR[r]+mapR[r+1])/2);
    row.forEach((v,c)=>{
      if(v<=0)return;
      const lx=c===0?ax.sx(kAxis[0]-.3):ax.sx((kAxis[c]+kAxis[c-1])/2);
      const rx=c===row.length-1?ax.sx(kAxis[c]+.3):ax.sx((kAxis[c]+kAxis[c+1])/2);
      const g=Math.round(v*2.55);
      add(blur,'rect',{x:lx.toFixed(2),y:top.toFixed(2),width:(rx-lx+.4).toFixed(2),height:(bot-top+.4).toFixed(2),fill:'rgb('+g+','+g+','+g+')'},name+'-cell');
    });
  });
  add(root,'rect',{x:b.x0,y:b.y0,width:b.x1-b.x0,height:b.y1-b.y0,fill:'none',stroke:'#1a2560','stroke-width':.8},name+'-map-border');
  /* colour bar */
  const n=30,h=(b.y1-b.y0)/n;
  for(let i=0;i<n;i++){
    add(root,'rect',{x:cb.x0,y:(b.y1-(i+1)*h).toFixed(2),width:cb.x1-cb.x0,height:(h+.3).toFixed(2),fill:cmap((i+.5)/n)},name+'-colorbar-step');
  }
  add(root,'rect',{x:cb.x0,y:b.y0,width:cb.x1-cb.x0,height:b.y1-b.y0,fill:'none',stroke:'#5a5a5a','stroke-width':1},name+'-colorbar-frame');
  const last=cbVals[cbVals.length-1],sc=linear(0,last,cb.yZero,cb.yMax);
  cbVals.forEach((v,i)=>{
    const y=sc(v);
    add(root,'line',{x1:cb.x1,x2:cb.x1+3,y1:y,y2:y,stroke:'#5a5a5a','stroke-width':.9},name+'-colorbar-tick');
    const t=add(root,'text',{x:cb.x1+4.5,y:y+3,'font-size':cb.fs||8.5},name+'-colorbar-label');
    t.textContent=cbText[i];
  });
}
heat('map-f1','cf1',{x0:304,x1:466.7,y0:235.7,y1:396.7},20,agTicksK,agK,mapAgFoil,{x0:472,x1:486.7,yZero:391.7,yMax:241},cbF1Values,cbF1Text);
heat('map-f2','cf2',{x0:571,x1:734,y0:235.7,y1:396.7},20,agTicksK,agK,mapAgCoCN,{x0:739.3,x1:753.3,yZero:391,yMax:240.7},cbF2Values,cbF2Text);
heat('map-f3','cf3',{x0:817.7,x1:980.7,y0:235.7,y1:396.7},20,agTicksK,agK,mapAg2O,{x0:986.7,x1:1005,yZero:390,yMax:242.3},cbF3Values,cbF3Text);
heat('map-l1','cl1',{x0:304,x1:466.7,y0:664,y1:824},18,coTicksK,coK,mapCoFoil,{x0:472.7,x1:486,yZero:819,yMax:669},cbL1Values,cbL1Text);
heat('map-l2','cl2',{x0:570,x1:733,y0:664,y1:824},18,coTicksK,coK,mapCoCN,{x0:739,x1:753,yZero:818.3,yMax:670},cbL2Values,cbL2Text);
heat('map-l3','cl3',{x0:816,x1:979,y0:664,y1:824},18,coTicksK,coK,mapCoO,{x0:985,x1:1004,yZero:818.3,yMax:670},cbL3Values,cbL3Text);
</script>
</body>
</html>
